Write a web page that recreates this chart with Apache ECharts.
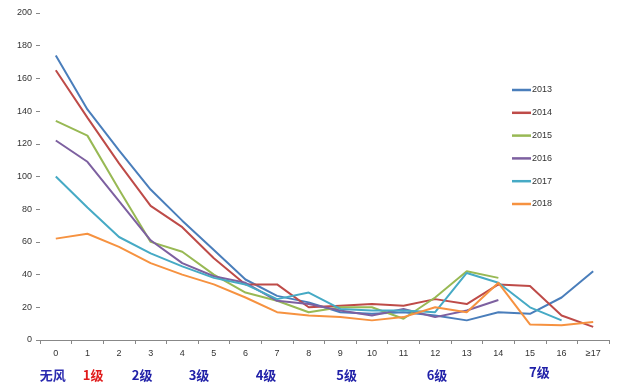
<!DOCTYPE html>
<html>
<head>
<meta charset="utf-8">
<script src="https://cdn.jsdelivr.net/npm/echarts@6/dist/echarts.min.js"></script>
<style>
html,body{margin:0;padding:0;background:#fff;}
#c{width:617px;height:388px;}
</style>
</head>
<body>
<div id="c"></div>
<script>
var categories = ['0','1','2','3','4','5','6','7','8','9','10','11','12','13','14','15','16','≥17'];
var yTicks = [0,20,40,60,80,100,120,140,160,180,200];
var seriesNames = ['2013','2014','2015','2016','2017','2018'];
var s2013 = [174,141,116,92,73,55,37,27,23,17,16,17,15,12,17,16,26,42];
var s2014 = [165,136,108,82,69,50,34,34,20,21,22,21,25,22,34,33,15,8];
var s2015 = [134,125,92,60,54,40,29,24,17,20,20,13,26,42,38];
var s2016 = [122,109,85,61,47,39,35,24,22,18,15,19,14,18,24.5];
var s2017 = [100,81,63,53,45,38,34,25,29,19,18,18,17,41,35,20,12];
var s2018 = [62,65,57,47,40,34,26,17,15,14,12,14,20,17,35,9.5,9,11];
var gradeLabels = ['无风','1级','2级','3级','4级','5级','6级','7级'];
var gradeCenters = [-0.1,1.18,2.73,4.53,6.65,9.2,12.06,15.3];

var colors = ['#4A7EBB','#BE4B48','#98B954','#7D60A0','#46AAC5','#F69240'];
var gradeColors = ['#2B2BB0','#E01B1B','#2020A8','#2020A8','#2020A8','#2020A8','#2020A8','#2020A8'];
var gradeDy = [0,0,0,0,0,0,0,-3];
var allData = [s2013,s2014,s2015,s2016,s2017,s2018];

var chart = echarts.init(document.getElementById('c'), null, {renderer:'canvas'});
var font = 'Liberation Sans, Arial, sans-serif';
var option = {
  animation: false,
  backgroundColor: '#fff',
  color: colors,
  grid: {left: 40, right: 8, top: 13, bottom: 48, containLabel: false},
  legend: {
    orient: 'vertical',
    left: 507, top: 79,
    icon: 'rect',
    itemWidth: 19, itemHeight: 2.5,
    itemGap: 10.8,
    data: seriesNames,
    textStyle: {fontSize: 9, color: '#333', fontFamily: font, lineHeight: 12, padding: [0,0,0,-4]}
  },
  xAxis: {
    type: 'category',
    data: categories,
    boundaryGap: true,
    axisLine: {lineStyle: {color: '#888', width: 1}},
    axisTick: {show: true, length: 4, lineStyle: {color: '#888'}},
    axisLabel: {fontSize: 9, color: '#333', fontFamily: font, margin: 9, interval: 0}
  },
  yAxis: {
    type: 'value',
    min: 0, max: 200, interval: 20,
    axisLine: {show: false},
    axisTick: {show: true, length: 4, lineStyle: {color: '#888'}},
    splitLine: {show: false},
    axisLabel: {fontSize: 9, color: '#333', fontFamily: font, margin: 8}
  },
  series: seriesNames.map(function(n, i){
    return {
      name: n, type: 'line', data: allData[i],
      symbol: 'none', smooth: false,
      lineStyle: {width: 2, color: colors[i]},
      itemStyle: {color: colors[i]}
    };
  })
};
chart.setOption(option);

var p0 = chart.convertToPixel({xAxisIndex: 0}, 0);
var p1 = chart.convertToPixel({xAxisIndex: 0}, 1);
var yBase = chart.convertToPixel({yAxisIndex: 0}, 0);
var step = p1 - p0;
chart.setOption({
  graphic: gradeLabels.map(function(t, i){
    return {
      type: 'text',
      x: p0 + gradeCenters[i] * step,
      y: yBase + 35 + gradeDy[i],
      style: {
        text: t,
        fill: gradeColors[i],
        font: 'bold 13px "Noto Sans CJK SC", sans-serif',
        textAlign: 'center',
        textVerticalAlign: 'middle'
      }
    };
  })
});
</script>
</body>
</html>
